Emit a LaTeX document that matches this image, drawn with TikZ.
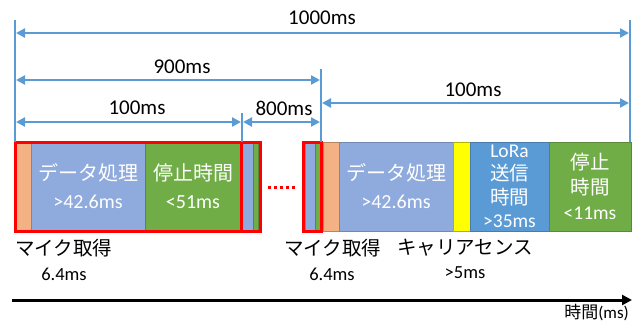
\documentclass[tikz,border=0pt]{standalone}
\usepackage{fontspec}
\setmainfont{Carlito}
\newfontfamily\jp{Noto Sans CJK JP}
\usetikzlibrary{arrows.meta}
\definecolor{dimblue}{HTML}{5B9BD5}
\definecolor{orng}{HTML}{F4B183}
\definecolor{lblue}{HTML}{8FAADC}
\definecolor{grn}{HTML}{70AD47}
\definecolor{ylw}{HTML}{FFFF00}
\definecolor{lora}{HTML}{5B9BD5}
\tikzset{
  seg/.style={anchor=north west, inner sep=0pt, outer sep=0pt, minimum height=89pt, line width=0.6pt, text=white, align=center},
  redbox/.style={anchor=north west, inner sep=0pt, outer sep=0pt, minimum height=89pt, draw=red, line width=3pt},
  dimline/.style={draw=dimblue, line width=2.5pt, {Triangle[length=9pt,width=9pt]}-{Triangle[length=9pt,width=9pt]}},
  tick/.style={draw=dimblue, line width=2.5pt},
  dimlabel/.style={font=\fontsize{21}{24}\selectfont, inner sep=0pt},
  boxtxt/.style={font=\fontsize{20}{28}\selectfont},
  smalltxt/.style={font=\fontsize{18.5}{24}\selectfont, inner sep=0pt},
  jplabel/.style={font=\fontsize{19.5}{24}\selectfont\jp, inner sep=0pt, anchor=west},
}
\begin{document}
\begin{tikzpicture}[x=1pt,y=-1pt]
\useasboundingbox (0,0) rectangle (634,325);
% coordinates for dimension ticks
\coordinate (tAt) at (15,20);   \coordinate (tAb) at (15,142);
\coordinate (tBt) at (242,113); \coordinate (tBb) at (242,142);
\coordinate (tCt) at (321,69);  \coordinate (tCb) at (321,142);
\coordinate (tDt) at (630,20);  \coordinate (tDb) at (630,142);
% segments
\node[seg, fill=orng, draw=orng!75!black, minimum width=16pt] (o1) at (15,142) {};
\node[seg, fill=lblue, draw=lblue!80!black, minimum width=114pt, boxtxt] (d1) at (31,142) {{\jp データ処理}\\>42.6ms};
\node[seg, fill=grn, draw=grn!80!black, minimum width=96pt, boxtxt] (s1) at (145,142) {{\jp 停止時間}\\<51ms};
\node[seg, fill=lblue, draw=lblue!80!black, minimum width=11pt] (b2) at (242,142) {};
\node[seg, fill=grn, draw=grn!80!black, minimum width=5pt] (g2) at (253,142) {};
\node[seg, fill=lblue, draw=lblue!80!black, minimum width=10pt] (b3) at (305,142) {};
\node[seg, fill=grn, draw=grn!80!black, minimum width=5pt] (g3) at (315,142) {};
\node[seg, fill=orng, draw=orng!75!black, minimum width=16pt] (o4) at (323,142) {};
\node[seg, fill=lblue, draw=lblue!80!black, minimum width=114pt, boxtxt] (d4) at (339,142) {{\jp データ処理}\\>42.6ms};
\node[seg, fill=ylw, draw=ylw!70!black, minimum width=17pt] (y4) at (453,142) {};
\node[seg, fill=lora, draw=lora!80!black, minimum width=79pt, font=\fontsize{19.5}{23.5}\selectfont] (l4) at (470,142) {LoRa\\{\jp 送信}\\{\jp 時間}\\>35ms};
\node[seg, fill=grn, draw=grn!80!black, minimum width=82pt, font=\fontsize{19.5}{25}\selectfont] (s4) at (549,142) {{\jp 停止}\\{\jp 時間}\\<11ms};
% red frames
\node[redbox, minimum width=226pt] (r1) at (15,142) {};
\node[redbox, minimum width=19pt] (r2) at (241,142) {};
\node[redbox, minimum width=18pt] (r3) at (303,142) {};
\coordinate (dotL) at (268,187);
\coordinate (dotR) at (296,187);
\draw[red, line width=3pt, dash pattern=on 3pt off 3pt] (dotL) -- (dotR);
% ticks
\draw[tick] (tAt) -- (tAb);
\draw[tick] (tBt) -- (tBb);
\draw[tick] (tCt) -- (tCb);
\draw[tick] (tDt) -- (tDb);
% dimension arrows
\coordinate (a1L) at (16,33);  \coordinate (a1R) at (629,33);
\coordinate (a2L) at (16,80);  \coordinate (a2R) at (320,80);
\coordinate (a3L) at (16,122); \coordinate (a3R) at (241,122);
\coordinate (a4L) at (243,122); \coordinate (a4R) at (320,122);
\coordinate (a5L) at (322,103); \coordinate (a5R) at (629,103);
\draw[dimline] (a1L) -- (a1R);
\draw[dimline] (a2L) -- (a2R);
\draw[dimline] (a3L) -- (a3R);
\draw[dimline] (a4L) -- (a4R);
\draw[dimline] (a5L) -- (a5R);
\node[dimlabel] (l1000) at (322,18) {1000ms};
\node[dimlabel] (l900) at (182,67) {900ms};
\node[dimlabel] (l100a) at (137,108) {100ms};
\node[dimlabel] (l800) at (284,108) {800ms};
\node[dimlabel] (l100b) at (473,90) {100ms};
% labels below
\node[jplabel] (mic1) at (15,248) {マイク取得};
\node[smalltxt] (t1) at (64,274) {6.4ms};
\node[jplabel] (mic2) at (284,248) {マイク取得};
\node[smalltxt] (t2) at (332,274) {6.4ms};
\node[jplabel] (cs) at (397,248) {キャリアセンス};
\node[smalltxt] (t3) at (465,273) {>5ms};
% time axis
\coordinate (axL) at (12,300);
\coordinate (axR) at (632,300);
\draw[black, line width=3pt, -{Triangle[length=10pt,width=10pt]}] (axL) -- (axR);
\node[font=\fontsize{17}{20}\selectfont, inner sep=0pt, anchor=east] (axlab) at (629,313) {{\jp 時間}(ms)};
\end{tikzpicture}
\end{document}
